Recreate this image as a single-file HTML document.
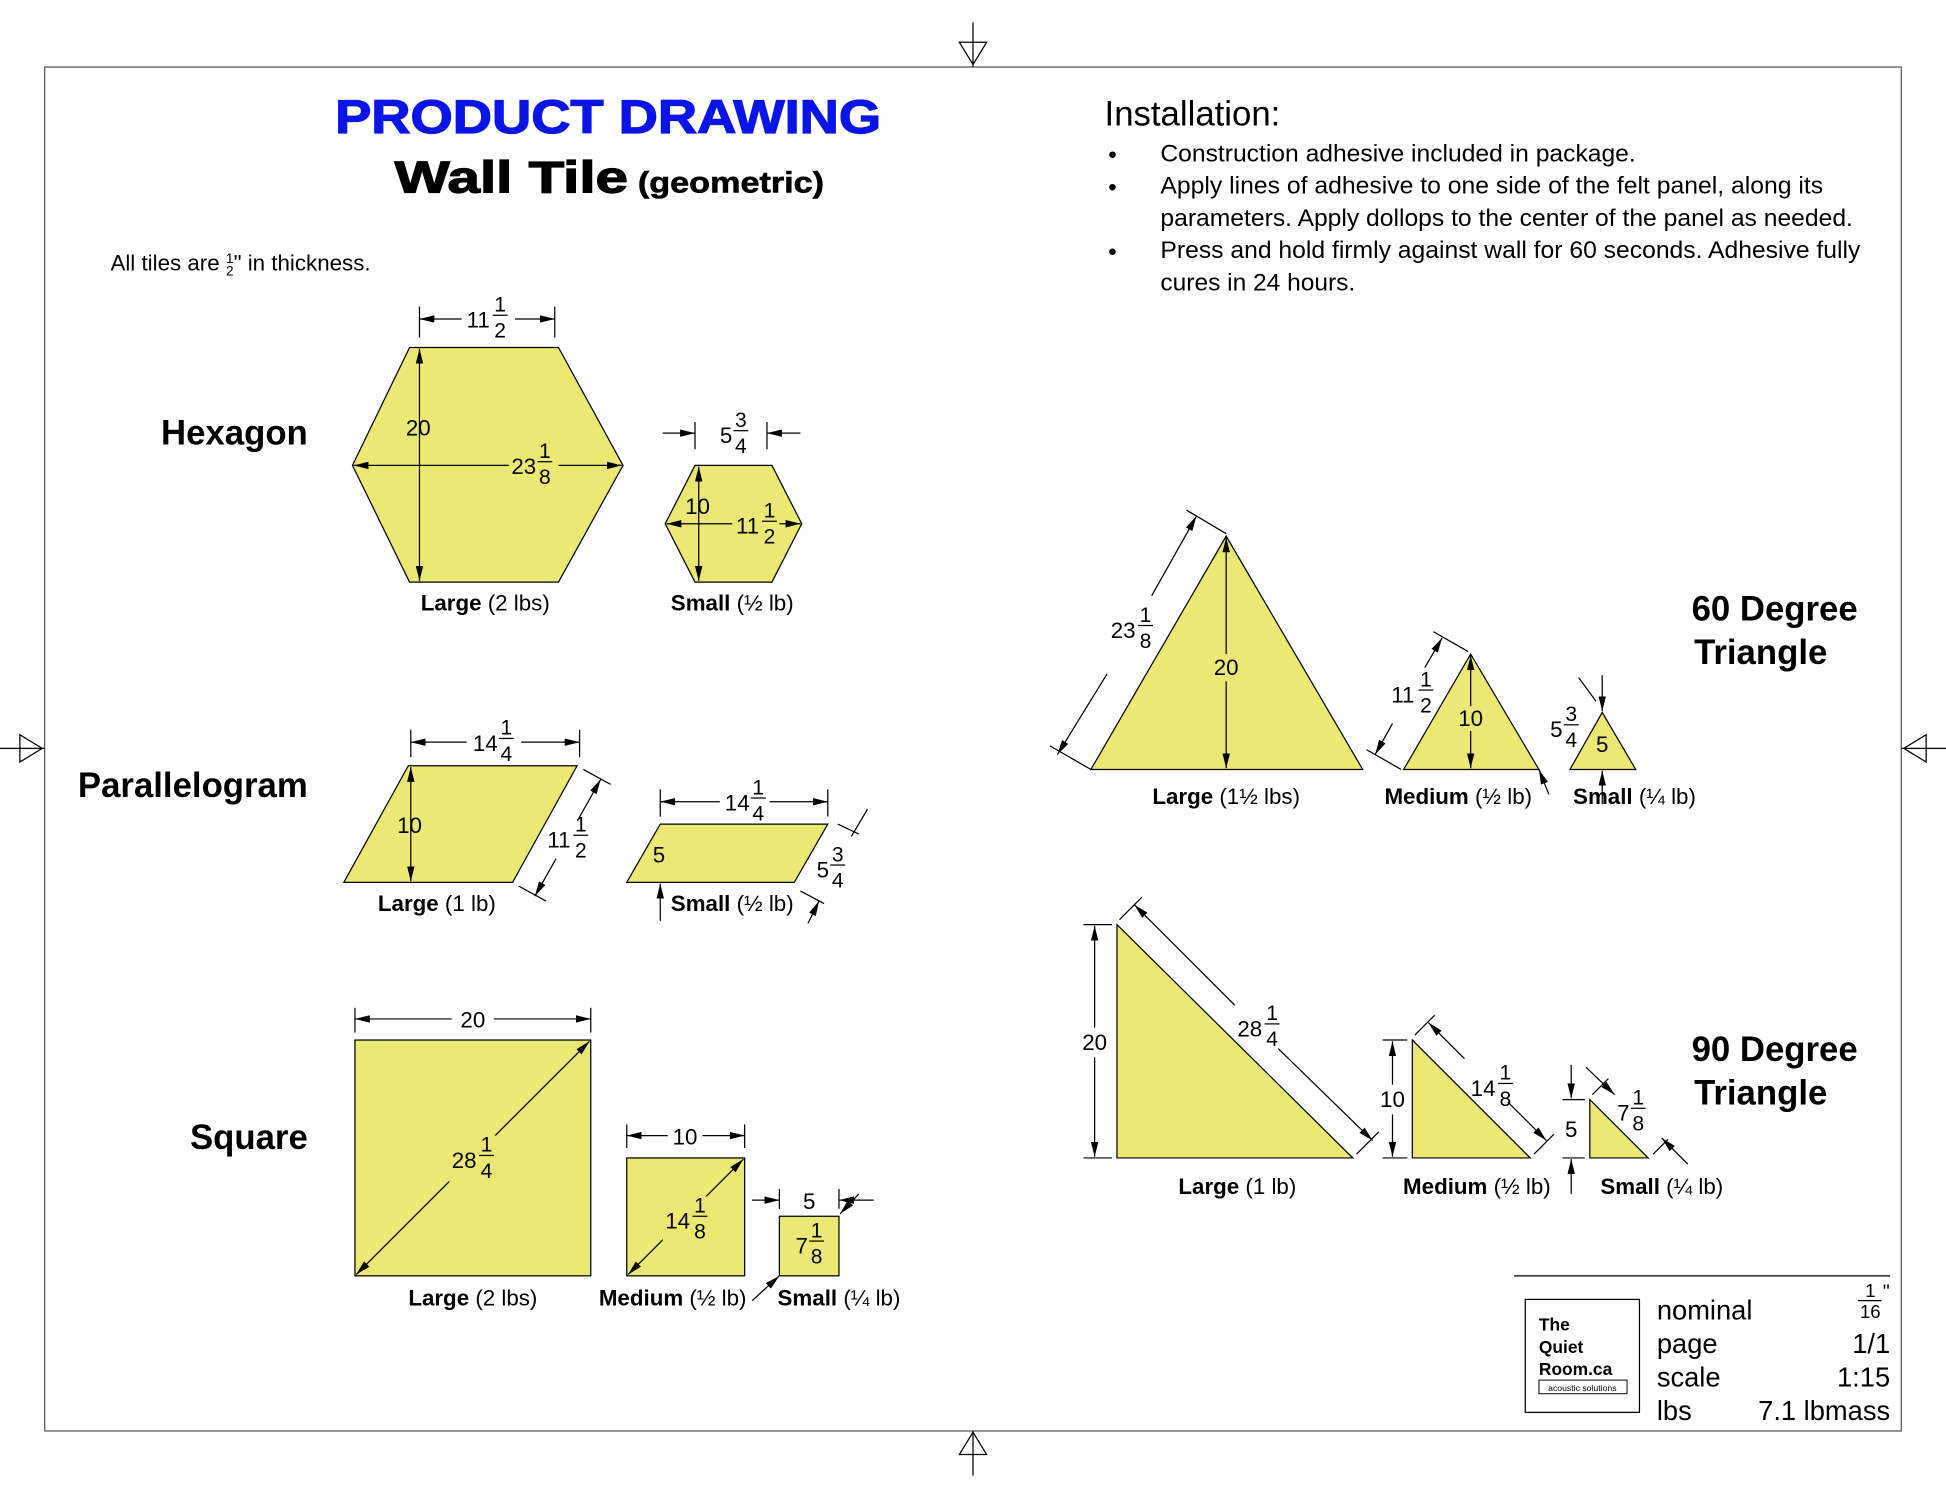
<!DOCTYPE html>
<html><head><meta charset="utf-8"><style>
html,body{margin:0;padding:0;background:#fff}
svg{display:block}
text{font-family:"Liberation Sans",Arial,sans-serif}
.s{fill:#ebe973;stroke:#000;stroke-width:1}
.d{stroke:#000;stroke-width:1;fill:none}
.a{stroke:#000;stroke-width:1;fill:none;marker-start:url(#m);marker-end:url(#m)}
.n{font-size:18px}
.f{font-size:17px;text-anchor:middle}
.b{font-weight:bold}
.lab{font-size:18px;text-anchor:middle}
.big{font-size:28px;font-weight:bold}
</style></head><body>
<svg width="1946" height="1498" viewBox="0 0 1568 1207" xmlns="http://www.w3.org/2000/svg">
<defs>
<marker id="m" viewBox="0 0 12 6" refX="12" refY="3" markerWidth="12" markerHeight="6" markerUnits="userSpaceOnUse" orient="auto-start-reverse"><path d="M0,0 L12,3 L0,6 z" fill="#000"/></marker>
</defs>
<rect x="36" y="54" width="1496" height="1099" fill="none" stroke="#555" stroke-width="1"/>
<g class="d">
<line x1="784" y1="18" x2="784" y2="54"/><path d="M773,34 L795,34 L784,52 z"/>
<line x1="784" y1="1153" x2="784" y2="1189"/><path d="M773,1172 L795,1172 L784,1154 z"/>
<line x1="0" y1="603" x2="36" y2="603"/><path d="M16,592 L16,614 L34,603 z"/>
<line x1="1532" y1="603" x2="1568" y2="603"/><path d="M1552,592 L1552,614 L1534,603 z"/>
</g>
<text x="270" y="107" font-size="38" font-weight="bold" fill="#0a14e6" textLength="440" lengthAdjust="spacingAndGlyphs" stroke="#0a14e6" stroke-width="1">PRODUCT DRAWING</text>
<text x="318" y="155" font-size="36" font-weight="bold" textLength="188" lengthAdjust="spacingAndGlyphs" stroke="#000" stroke-width="1">Wall Tile</text>
<text x="514" y="155" font-size="24" font-weight="bold" textLength="150" lengthAdjust="spacingAndGlyphs" stroke="#000" stroke-width="0.5">(geometric)</text>
<text x="89" y="218" font-size="18">All tiles are <tspan font-size="11" dy="-6">1</tspan><tspan font-size="11" dx="-6" dy="10">2</tspan><tspan dy="-4">" in thickness.</tspan></text>
<text x="890" y="101" font-size="28">Installation:</text>
<g font-size="19.5">
<text x="893" y="131">•</text><text x="935" y="130" textLength="383" lengthAdjust="spacingAndGlyphs">Construction adhesive included in package.</text>
<text x="893" y="157">•</text><text x="935" y="156" textLength="534" lengthAdjust="spacingAndGlyphs">Apply lines of adhesive to one side of the felt panel, along its</text>
<text x="935" y="182" textLength="558" lengthAdjust="spacingAndGlyphs">parameters. Apply dollops to the center of the panel as needed.</text>
<text x="893" y="209">•</text><text x="935" y="208" textLength="564" lengthAdjust="spacingAndGlyphs">Press and hold firmly against wall for 60 seconds. Adhesive fully</text>
<text x="935" y="234" textLength="157" lengthAdjust="spacingAndGlyphs">cures in 24 hours.</text>
</g>

<text x="248" y="358" text-anchor="end" class="big">Hexagon</text>
<polygon class="s" points="284,375 330,280 450,280 502,375 450,469 330,469"/>
<line class="a" x1="338" y1="281" x2="338" y2="468"/>
<line class="a" x1="285" y1="375" x2="501" y2="375"/>
<rect x="410" y="360" width="40" height="34" fill="#ebe973"/>
<text class="n" x="327" y="351">20</text>
<text class="n" x="412" y="382">23</text><text class="f" x="439" y="369">1</text><line class="d" x1="433" y1="372" x2="445" y2="372"/><text class="f" x="439" y="390">8</text>
<g class="d"><line x1="338" y1="247" x2="338" y2="272"/><line x1="447" y1="247" x2="447" y2="272"/></g>
<line class="d" x1="338" y1="257" x2="372" y2="257" style="marker-start:url(#m)"/>
<line class="d" x1="415" y1="257" x2="447" y2="257" style="marker-end:url(#m)"/>
<text class="n" x="376" y="264">11</text><text class="f" x="403" y="251">1</text><line class="d" x1="397" y1="254" x2="409" y2="254"/><text class="f" x="403" y="272">2</text>
<text class="lab" x="391" y="492"><tspan class="b">Large</tspan> (2 lbs)</text>

<polygon class="s" points="536,422 560,375 622,375 646,422 622,469 560,469"/>
<line class="a" x1="563" y1="376" x2="563" y2="468"/>
<line class="a" x1="537" y1="422" x2="645" y2="422"/>
<rect x="590" y="408" width="38" height="32" fill="#ebe973"/>
<text class="n" x="552" y="414">10</text>
<text class="n" x="593" y="430">11</text><text class="f" x="620" y="417">1</text><line class="d" x1="614" y1="420" x2="626" y2="420"/><text class="f" x="620" y="438">2</text>
<g class="d"><line x1="560" y1="340" x2="560" y2="362"/><line x1="618" y1="340" x2="618" y2="362"/></g>
<line class="d" x1="534" y1="349" x2="560" y2="349" style="marker-end:url(#m)"/>
<line class="d" x1="645" y1="349" x2="618" y2="349" style="marker-end:url(#m)"/>
<text class="n" x="580" y="357">5</text><text class="f" x="597" y="344">3</text><line class="d" x1="591" y1="347" x2="603" y2="347"/><text class="f" x="597" y="365">4</text>
<text class="lab" x="590" y="492"><tspan class="b">Small</tspan> (½ lb)</text>

<text x="248" y="642" text-anchor="end" class="big">Parallelogram</text>
<polygon class="s" points="277,711 329,617 465,617 413,711"/>
<line class="a" x1="331" y1="618" x2="331" y2="710"/>
<text class="n" x="320" y="671">10</text>
<g class="d"><line x1="331" y1="588" x2="331" y2="610"/><line x1="467" y1="588" x2="467" y2="610"/></g>
<line class="d" x1="331" y1="598" x2="376" y2="598" style="marker-start:url(#m)"/>
<line class="d" x1="420" y1="598" x2="467" y2="598" style="marker-end:url(#m)"/>
<text class="n" x="381" y="605">14</text><text class="f" x="408" y="592">1</text><line class="d" x1="402" y1="595" x2="414" y2="595"/><text class="f" x="408" y="613">4</text>
<g class="d"><line x1="470" y1="620" x2="492" y2="632"/><line x1="418" y1="714" x2="440" y2="726"/></g>
<line class="d" x1="484" y1="628" x2="466" y2="660" style="marker-start:url(#m)"/>
<line class="d" x1="448" y1="692" x2="431" y2="722" style="marker-end:url(#m)"/>
<text class="n" x="441" y="683">11</text><text class="f" x="468" y="670">1</text><line class="d" x1="462" y1="673" x2="474" y2="673"/><text class="f" x="468" y="691">2</text>
<text class="lab" x="352" y="734"><tspan class="b">Large</tspan> (1 lb)</text>

<polygon class="s" points="505,711 532,664 667,664 640,711"/>
<text class="n" x="526" y="695">5</text>
<g class="d"><line x1="532" y1="636" x2="532" y2="658"/><line x1="667" y1="636" x2="667" y2="658"/></g>
<line class="d" x1="532" y1="646" x2="580" y2="646" style="marker-start:url(#m)"/>
<line class="d" x1="620" y1="646" x2="667" y2="646" style="marker-end:url(#m)"/>
<text class="n" x="584" y="653">14</text><text class="f" x="611" y="640">1</text><line class="d" x1="605" y1="643" x2="617" y2="643"/><text class="f" x="611" y="661">4</text>
<line class="d" x1="532" y1="742" x2="532" y2="712" style="marker-end:url(#m)"/>
<g class="d"><line x1="675" y1="664" x2="692" y2="672"/><line x1="645" y1="718" x2="664" y2="728"/><line x1="699" y1="652" x2="686" y2="674"/><line x1="651" y1="744" x2="660" y2="726" style="marker-end:url(#m)"/></g>
<text class="n" x="658" y="707">5</text><text class="f" x="675" y="694">3</text><line class="d" x1="669" y1="697" x2="681" y2="697"/><text class="f" x="675" y="715">4</text>
<text class="lab" x="590" y="734"><tspan class="b">Small</tspan> (½ lb)</text>

<text x="248" y="926" text-anchor="end" class="big">Square</text>
<rect class="s" x="286" y="838" width="190" height="190"/>
<line class="a" x1="287" y1="1027" x2="475" y2="839"/>
<rect x="362" y="915" width="40" height="38" fill="#ebe973"/>
<text class="n" x="364" y="941">28</text><text class="f" x="392" y="928">1</text><line class="d" x1="386" y1="931" x2="398" y2="931"/><text class="f" x="392" y="949">4</text>
<g class="d"><line x1="286" y1="812" x2="286" y2="832"/><line x1="476" y1="812" x2="476" y2="832"/></g>
<line class="d" x1="286" y1="821" x2="364" y2="821" style="marker-start:url(#m)"/>
<line class="d" x1="398" y1="821" x2="476" y2="821" style="marker-end:url(#m)"/>
<text class="n" x="381" y="828" text-anchor="middle">20</text>
<text class="lab" x="381" y="1052"><tspan class="b">Large</tspan> (2 lbs)</text>

<rect class="s" x="505" y="933" width="95" height="95"/>
<line class="a" x1="506" y1="1027" x2="599" y2="934"/>
<rect x="534" y="964" width="40" height="38" fill="#ebe973"/>
<text class="n" x="536" y="990">14</text><text class="f" x="564" y="977">1</text><line class="d" x1="558" y1="980" x2="570" y2="980"/><text class="f" x="564" y="998">8</text>
<g class="d"><line x1="505" y1="906" x2="505" y2="925"/><line x1="600" y1="906" x2="600" y2="925"/></g>
<line class="d" x1="505" y1="915" x2="538" y2="915" style="marker-start:url(#m)"/>
<line class="d" x1="566" y1="915" x2="600" y2="915" style="marker-end:url(#m)"/>
<text class="n" x="552" y="922" text-anchor="middle">10</text>
<text class="lab" x="542" y="1052"><tspan class="b">Medium</tspan> (½ lb)</text>

<rect class="s" x="628" y="980" width="48" height="48"/>
<text class="n" x="641" y="1010">7</text><text class="f" x="658" y="997">1</text><line class="d" x1="652" y1="1000" x2="664" y2="1000"/><text class="f" x="658" y="1018">8</text>
<g class="d"><line x1="628" y1="958" x2="628" y2="974"/><line x1="676" y1="958" x2="676" y2="974"/></g>
<line class="d" x1="606" y1="967" x2="628" y2="967" style="marker-end:url(#m)"/>
<line class="d" x1="704" y1="967" x2="676" y2="967" style="marker-end:url(#m)"/>
<text class="n" x="652" y="974" text-anchor="middle">5</text>
<line class="d" x1="606" y1="1048" x2="628" y2="1028" style="marker-end:url(#m)"/>
<line class="d" x1="692" y1="962" x2="677" y2="978" style="marker-end:url(#m)"/>
<text class="lab" x="676" y="1052"><tspan class="b">Small</tspan> (¼ lb)</text>

<text x="1363" y="500" class="big">60 Degree</text>
<text x="1365" y="535" class="big">Triangle</text>
<polygon class="s" points="879,620 988,432 1098,620"/>
<line class="a" x1="988" y1="433" x2="988" y2="619"/>
<rect x="976" y="527" width="26" height="22" fill="#ebe973"/>
<text class="n" x="988" y="544" text-anchor="middle">20</text>
<g class="d"><line x1="988" y1="430" x2="956" y2="411"/><line x1="879" y1="620" x2="846" y2="601"/></g>
<line class="d" x1="964" y1="416" x2="928" y2="480" style="marker-start:url(#m)"/>
<line class="d" x1="892" y1="543" x2="852" y2="608" style="marker-end:url(#m)"/>
<text class="n" x="895" y="514">23</text><text class="f" x="923" y="501">1</text><line class="d" x1="917" y1="504" x2="929" y2="504"/><text class="f" x="923" y="522">8</text>
<text class="lab" x="988" y="648"><tspan class="b">Large</tspan> (1½ lbs)</text>

<polygon class="s" points="1131,620 1185,527 1240,620"/>
<line class="a" x1="1185" y1="528" x2="1185" y2="619"/>
<rect x="1173" y="569" width="26" height="20" fill="#ebe973"/>
<text class="n" x="1185" y="585" text-anchor="middle">10</text>
<g class="d"><line x1="1183" y1="525" x2="1155" y2="509"/><line x1="1129" y1="620" x2="1101" y2="604"/></g>
<line class="d" x1="1162" y1="514" x2="1148" y2="538" style="marker-start:url(#m)"/>
<line class="d" x1="1122" y1="583" x2="1108" y2="608" style="marker-end:url(#m)"/>
<text class="n" x="1121" y="566">11</text><text class="f" x="1149" y="553">1</text><line class="d" x1="1143" y1="556" x2="1155" y2="556"/><text class="f" x="1149" y="574">2</text>
<line class="d" x1="1248" y1="640" x2="1240" y2="620" style="marker-end:url(#m)"/>
<text class="lab" x="1175" y="648"><tspan class="b">Medium</tspan> (½ lb)</text>

<polygon class="s" points="1265,620 1291,574 1318,620"/>
<text class="n" x="1291" y="606" text-anchor="middle">5</text>
<line class="d" x1="1291" y1="544" x2="1291" y2="573" style="marker-end:url(#m)"/>
<line class="d" x1="1291" y1="648" x2="1291" y2="621" style="marker-end:url(#m)"/>
<line class="d" x1="1272" y1="546" x2="1286" y2="565"/>
<text class="n" x="1249" y="594">5</text><text class="f" x="1266" y="581">3</text><line class="d" x1="1260" y1="584" x2="1272" y2="584"/><text class="f" x="1266" y="602">4</text>
<text class="lab" x="1317" y="648"><tspan class="b">Small</tspan> (¼ lb)</text>

<text x="1363" y="855" class="big">90 Degree</text>
<text x="1365" y="890" class="big">Triangle</text>
<polygon class="s" points="900,933 900,745 1090,933"/>
<g class="d"><line x1="873" y1="745" x2="896" y2="745"/><line x1="873" y1="933" x2="896" y2="933"/></g>
<line class="d" x1="882" y1="746" x2="882" y2="828" style="marker-start:url(#m)"/>
<line class="d" x1="882" y1="852" x2="882" y2="932" style="marker-end:url(#m)"/>
<text class="n" x="882" y="846" text-anchor="middle">20</text>
<g class="d"><line x1="902" y1="741" x2="920" y2="723"/><line x1="1093" y1="930" x2="1111" y2="912"/></g>
<line class="d" x1="914" y1="729" x2="995" y2="810" style="marker-start:url(#m)"/>
<line class="d" x1="1030" y1="845" x2="1106" y2="919" style="marker-end:url(#m)"/>
<text class="n" x="997" y="835">28</text><text class="f" x="1025" y="822">1</text><line class="d" x1="1019" y1="825" x2="1031" y2="825"/><text class="f" x="1025" y="843">4</text>
<text class="lab" x="997" y="962"><tspan class="b">Large</tspan> (1 lb)</text>

<polygon class="s" points="1138,933 1138,838 1233,933"/>
<g class="d"><line x1="1114" y1="838" x2="1134" y2="838"/><line x1="1114" y1="933" x2="1134" y2="933"/></g>
<line class="d" x1="1122" y1="839" x2="1122" y2="874" style="marker-start:url(#m)"/>
<line class="d" x1="1122" y1="898" x2="1122" y2="932" style="marker-end:url(#m)"/>
<text class="n" x="1122" y="892" text-anchor="middle">10</text>
<g class="d"><line x1="1140" y1="834" x2="1156" y2="818"/><line x1="1236" y1="930" x2="1252" y2="914"/></g>
<line class="d" x1="1151" y1="824" x2="1180" y2="853" style="marker-start:url(#m)"/>
<line class="d" x1="1215" y1="888" x2="1246" y2="919" style="marker-end:url(#m)"/>
<text class="n" x="1185" y="883">14</text><text class="f" x="1213" y="870">1</text><line class="d" x1="1207" y1="873" x2="1219" y2="873"/><text class="f" x="1213" y="891">8</text>
<text class="lab" x="1190" y="962"><tspan class="b">Medium</tspan> (½ lb)</text>

<polygon class="s" points="1281,933 1281,886 1328,933"/>
<g class="d"><line x1="1259" y1="886" x2="1277" y2="886"/><line x1="1259" y1="933" x2="1277" y2="933"/></g>
<line class="d" x1="1266" y1="858" x2="1266" y2="885" style="marker-end:url(#m)"/>
<line class="d" x1="1266" y1="962" x2="1266" y2="934" style="marker-end:url(#m)"/>
<text class="n" x="1266" y="916" text-anchor="middle">5</text>
<g class="d"><line x1="1283" y1="882" x2="1296" y2="869"/><line x1="1332" y1="930" x2="1344" y2="918"/></g>
<line class="d" x1="1278" y1="860" x2="1301" y2="882" style="marker-end:url(#m)"/>
<line class="d" x1="1360" y1="938" x2="1339" y2="917" style="marker-end:url(#m)"/>
<text class="n" x="1303" y="903">7</text><text class="f" x="1320" y="890">1</text><line class="d" x1="1314" y1="893" x2="1326" y2="893"/><text class="f" x="1320" y="911">8</text>
<text class="lab" x="1339" y="962"><tspan class="b">Small</tspan> (¼ lb)</text>

<line class="d" x1="1220" y1="1028" x2="1523" y2="1028" stroke="#444"/>
<rect x="1229" y="1047" width="92" height="91" fill="none" stroke="#000"/>
<g font-size="14" font-weight="bold"><text x="1240" y="1072">The</text><text x="1240" y="1090">Quiet</text><text x="1240" y="1108">Room.ca</text></g>
<rect x="1240" y="1112" width="71" height="11" fill="none" stroke="#000" stroke-width="0.8"/>
<text x="1275" y="1121" font-size="7" text-anchor="middle">acoustic solutions</text>
<g font-size="22">
<text x="1335" y="1063">nominal</text><text x="1335" y="1090">page</text><text x="1335" y="1117">scale</text><text x="1335" y="1144">lbs</text>
<text x="1523" y="1090" text-anchor="end">1/1</text><text x="1523" y="1117" text-anchor="end">1:15</text><text x="1523" y="1144" text-anchor="end">7.1 lbmass</text>
</g>
<text x="1507" y="1045" font-size="15" text-anchor="middle">1</text><line class="d" x1="1497" y1="1048" x2="1516" y2="1048"/><text x="1507" y="1062" font-size="15" text-anchor="middle">16</text><text x="1517" y="1046" font-size="16">"</text>
</svg>
</body></html>
